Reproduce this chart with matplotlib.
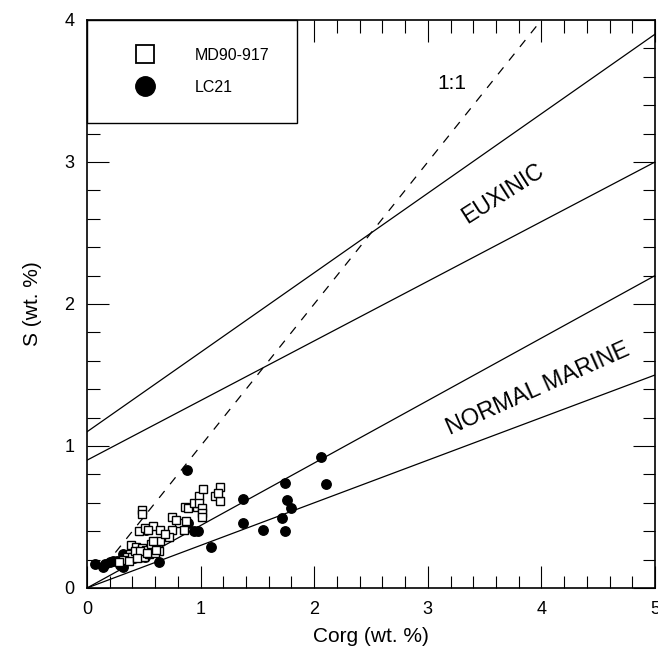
import matplotlib
matplotlib.use("Agg")
import matplotlib.pyplot as plt
from matplotlib.lines import Line2D
from matplotlib.ticker import MultipleLocator

plt.rcParams['font.family'] = ['Liberation Sans', 'DejaVu Sans']

# MD90-917 (open squares)
md_corg = [0.48, 0.48, 0.46, 0.51, 0.58, 0.64, 0.54, 0.39, 0.43, 0.48, 0.52,
           0.57, 0.64, 0.63, 0.38, 0.35, 0.40, 0.45, 0.50, 0.55, 0.60, 0.42,
           0.47, 0.53, 0.75, 0.81, 0.75, 0.85, 0.72, 0.69, 0.86, 0.89, 0.97,
           0.94, 0.99, 0.99, 1.01, 1.01, 1.01, 1.02, 1.13, 1.17, 1.17, 1.15,
           0.78, 0.87, 0.56, 0.32, 0.37, 0.44, 0.28, 0.58, 0.61]
md_s = [0.55, 0.52, 0.40, 0.42, 0.44, 0.41, 0.41, 0.30, 0.29, 0.28, 0.27,
        0.29, 0.33, 0.26, 0.24, 0.22, 0.22, 0.23, 0.22, 0.24, 0.25, 0.26,
        0.26, 0.25, 0.50, 0.46, 0.41, 0.41, 0.36, 0.38, 0.57, 0.56, 0.57,
        0.60, 0.65, 0.60, 0.56, 0.53, 0.50, 0.70, 0.65, 0.71, 0.61, 0.67,
        0.48, 0.47, 0.31, 0.20, 0.19, 0.21, 0.18, 0.33, 0.27]

# LC21 (filled circles)
lc_corg = [0.88, 2.06, 2.10, 1.74, 1.37, 1.76, 1.80, 1.37, 1.72, 1.55, 1.74,
           1.09, 0.63, 0.89, 0.94, 0.98, 0.52, 0.32, 0.07, 0.16, 0.20, 0.23,
           0.29, 0.35, 0.41, 0.47, 0.26, 0.14, 0.45, 0.51, 0.39, 0.32]
lc_s = [0.83, 0.92, 0.73, 0.74, 0.63, 0.62, 0.56, 0.46, 0.49, 0.41, 0.40,
        0.29, 0.18, 0.46, 0.40, 0.40, 0.41, 0.24, 0.17, 0.17, 0.18, 0.19,
        0.16, 0.20, 0.21, 0.22, 0.19, 0.15, 0.22, 0.22, 0.24, 0.15]

# reference lines: S at Corg=0 and S at Corg=5
euxinic_lines = [(1.1, 3.9), (0.9, 3.0)]
marine_lines = [(0.0, 2.2), (0.0, 1.5)]
one_to_one = [0.25, 4.0]

fig = plt.figure(figsize=(6.58, 6.51), dpi=100)
ax = fig.add_axes([87/658, 63/651, 568/658, 568/651])

for s0, s5 in euxinic_lines + marine_lines:
    ax.plot([0, 5], [s0, s5], color='k', lw=0.9, zorder=2)
ax.plot(one_to_one, one_to_one, color='k', lw=0.9, ls=(0, (7, 7)), zorder=2)

ax.plot(lc_corg, lc_s, ls='', marker='o', ms=6.8, color='k', zorder=3)
ax.plot(md_corg, md_s, ls='', marker='s', ms=6.4, mfc='white', mec='k',
        mew=1.0, zorder=4)

ax.text(3.21, 3.55, '1:1', fontsize=15, ha='center', va='center')
ax.text(3.66, 2.78, 'EUXINIC', fontsize=16.5, rotation=32.5,
        ha='center', va='center', rotation_mode='anchor')
ax.text(3.97, 1.40, 'NORMAL MARINE', fontsize=17, rotation=24,
        ha='center', va='center', rotation_mode='anchor')

ax.set_xlim(0, 5)
ax.set_ylim(0, 4)
ax.xaxis.set_major_locator(MultipleLocator(1))
ax.xaxis.set_minor_locator(MultipleLocator(0.2))
ax.yaxis.set_major_locator(MultipleLocator(1))
ax.yaxis.set_minor_locator(MultipleLocator(0.2))
ax.tick_params(which='both', direction='in', top=True, right=True,
               labelsize=13, width=0.8)
ax.tick_params(which='major', length=16, pad=9)
ax.tick_params(which='minor', length=9)
for sp in ax.spines.values():
    sp.set_linewidth(1.2)

ax.set_xlabel('Corg (wt. %)', fontsize=15, labelpad=7)
ax.set_ylabel('S (wt. %)', fontsize=15, labelpad=16)

handles = [Line2D([], [], ls='', marker='s', ms=13, mfc='white', mec='k', mew=1.3),
           Line2D([], [], ls='', marker='o', ms=14, color='k')]
leg = ax.legend(handles, ['MD90-917', 'LC21'], loc='upper left',
                bbox_to_anchor=(0, 1), borderaxespad=0, fontsize=11.5,
                fancybox=False, edgecolor='k', framealpha=1,
                borderpad=1.75, handlelength=3.8, handletextpad=1.2,
                labelspacing=1.05)
leg.get_frame().set_linewidth(1.0)

fig.savefig('out.png', dpi=100)
